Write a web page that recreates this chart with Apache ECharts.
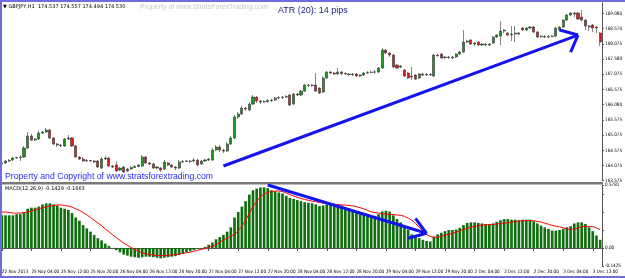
<!DOCTYPE html>
<html>
<head>
<meta charset="utf-8">
<title>GBPJPY H1 - MACD</title>
<script src="https://cdn.jsdelivr.net/npm/echarts@6/dist/echarts.min.js"></script>
<style>
  html, body { margin: 0; padding: 0; background: #fff; }
  #wrap { position: relative; width: 625px; height: 278px; }
  #main { width: 625px; height: 278px; }
  #frame { position: absolute; left: 0; top: 0; width: 625px; height: 278px; box-sizing: border-box;
    border-left: 2px solid #6d6de0; border-top: 2px solid #6d6de0; border-bottom: 2px solid #6d6de0;
    pointer-events: none; }
</style>
</head>
<body>
<div id="wrap"><div id="main"></div><div id="frame"></div></div>
<script>
// trading sessions shown (day, first hour, last hour)
const sessions = [
  ['22 Nov', 20, 23], ['25 Nov', 0, 23], ['26 Nov', 0, 23], ['27 Nov', 0, 23],
  ['28 Nov', 0, 23], ['29 Nov', 0, 23], ['2 Dec', 0, 23], ['3 Dec', 0, 14]
];
const firstLabel = '22 Nov 2013';

// open, close, low, high
const candles = [
  [164.124,164.157,164.058,164.223],[164.157,164.223,164.124,164.255],[164.223,164.239,164.190,164.288],
  [164.255,164.321,164.223,164.354],[164.321,164.338,164.288,164.354],[164.338,164.354,164.223,164.420],
  [164.354,164.650,164.321,164.716],[164.650,165.045,164.617,165.176],[165.045,164.913,164.880,165.110],
  [164.913,164.946,164.880,164.979],[164.946,165.143,164.913,165.209],[165.143,165.176,165.110,165.209],
  [165.176,165.242,165.143,165.308],[165.242,164.979,164.946,165.275],[164.979,164.782,164.749,165.012],
  [164.782,164.749,164.683,164.814],[164.749,164.732,164.683,164.782],[164.716,164.946,164.683,164.979],
  [164.946,164.979,164.913,165.078],[164.979,164.716,164.683,165.012],[164.716,164.354,164.321,164.749],
  [164.354,164.288,164.255,164.387],[164.288,164.223,164.190,164.354],[164.223,164.239,164.190,164.288],
  [164.239,164.223,164.190,164.255],[164.223,164.190,164.157,164.255],[164.223,164.025,163.992,164.255],
  [163.992,164.288,163.959,164.354],[164.288,164.321,164.255,164.387],[164.321,164.058,164.025,164.354],
  [164.058,164.025,163.992,164.091],[164.091,163.894,163.861,164.223],[163.927,163.992,163.894,164.025],
  [164.025,163.861,163.828,164.058],[163.894,163.959,163.861,163.992],[163.959,164.009,163.927,164.058],
  [164.009,164.042,163.992,164.091],[164.042,164.091,164.025,164.124],[164.058,164.354,164.025,164.420],
  [164.354,164.157,164.124,164.387],[164.157,164.124,164.091,164.190],[164.124,163.992,163.959,164.157],
  [163.992,164.025,163.959,164.058],[163.992,163.927,163.861,164.025],[163.959,164.190,163.927,164.255],
  [164.157,164.091,164.058,164.190],[164.091,164.025,163.992,164.124],[164.025,163.992,163.927,164.058],
  [163.992,164.190,163.959,164.255],[164.190,164.206,164.157,164.255],[164.206,164.223,164.190,164.255],
  [164.223,164.206,164.157,164.255],[164.223,164.255,164.190,164.321],[164.255,164.091,164.058,164.288],
  [164.124,164.223,164.091,164.255],[164.223,164.255,164.190,164.288],[164.255,164.288,164.223,164.321],
  [164.255,164.584,164.223,164.650],[164.584,164.683,164.551,164.749],[164.683,164.584,164.518,164.749],
  [164.584,164.551,164.486,164.617],[164.551,164.782,164.518,164.847],[164.782,164.979,164.749,165.045],
  [164.979,165.669,164.946,165.735],[165.669,165.768,165.604,165.834],[165.768,165.965,165.735,166.031],
  [165.965,165.933,165.867,165.998],[165.900,166.097,165.867,166.163],[166.097,166.327,166.064,166.393],
  [166.327,166.196,166.130,166.360],[166.196,166.163,166.097,166.228],[166.163,166.179,166.130,166.228],
  [166.179,166.212,166.130,166.261],[166.212,166.228,166.163,166.261],[166.228,166.294,166.196,166.327],
  [166.294,166.311,166.261,166.360],[166.311,166.327,166.261,166.360],[166.327,166.344,166.294,166.393],
  [166.393,166.064,166.031,166.426],[166.097,166.426,166.064,166.459],[166.426,166.393,166.360,166.459],
  [166.393,166.524,166.360,166.557],[166.524,166.722,166.492,166.755],[166.722,166.705,166.656,166.755],
  [166.705,166.722,166.656,166.755],[166.722,166.524,166.492,167.116],[166.623,166.459,166.426,166.656],
  [166.492,166.952,166.459,167.018],[166.952,167.149,166.919,167.182],[167.149,167.116,167.084,167.182],
  [167.116,167.084,167.051,167.149],[167.084,167.149,167.051,167.281],[167.149,167.100,167.051,167.182],
  [167.100,167.084,167.051,167.149],[167.084,167.067,167.018,167.116],[167.067,167.084,167.018,167.116],
  [167.084,167.018,166.985,167.116],[167.018,167.051,166.985,167.084],[167.051,167.116,167.018,167.149],
  [167.116,167.133,167.084,167.182],[167.133,167.149,167.116,167.182],[167.149,167.150,167.084,167.215],
  [167.149,167.281,167.116,167.314],[167.281,167.873,167.248,167.939],[167.873,167.774,167.741,167.906],
  [167.774,167.708,167.643,167.807],[167.708,167.314,167.281,167.741],[167.379,167.281,167.248,167.412],
  [167.314,167.347,167.281,167.379],[167.215,167.018,166.985,167.248],[167.116,166.952,166.919,167.149],
  [167.018,166.985,166.886,167.314],[167.051,166.919,166.886,167.084],[166.952,167.084,166.919,167.116],
  [167.084,167.051,167.018,167.116],[167.051,167.067,167.018,167.116],[167.067,167.051,167.018,167.116],
  [167.018,167.708,166.985,167.741],[167.708,167.692,167.643,167.741],[167.741,167.610,167.577,167.774],
  [167.643,167.626,167.577,167.675],[167.626,167.643,167.577,167.675],[167.643,167.610,167.577,167.675],
  [167.643,167.741,167.610,167.774],[167.741,167.807,167.708,167.840],[167.807,168.136,167.774,168.530],
  [168.136,168.169,168.103,168.202],[168.202,168.070,168.037,168.234],[168.070,168.103,168.004,168.136],
  [168.136,168.037,168.004,168.169],[168.037,168.070,168.004,168.103],[168.070,168.037,168.004,168.103],
  [168.037,168.070,168.004,168.103],[168.103,168.300,168.070,168.333],[168.300,168.366,168.267,168.399],
  [168.333,168.498,168.037,168.826],[168.498,168.530,168.432,168.563],[168.432,168.366,168.333,168.465],
  [168.366,168.399,168.169,168.662],[168.432,168.399,168.136,168.662],[168.399,168.432,168.366,168.465],
  [168.596,168.530,168.498,168.629],[168.530,168.596,168.498,168.629],[168.596,168.629,168.563,168.662],
  [168.629,168.465,168.432,168.662],[168.465,168.300,168.267,168.498],[168.333,168.317,168.267,168.366],
  [168.317,168.300,168.267,168.366],[168.300,168.317,168.267,168.366],[168.317,168.333,168.300,168.366],
  [168.333,168.596,168.300,168.629],[168.530,168.629,168.498,168.662],[168.629,168.859,168.596,168.892],
  [168.859,169.024,168.826,169.057],[169.024,169.090,168.991,169.122],[169.090,169.057,168.958,169.122],
  [169.090,168.892,168.859,169.122],[168.958,168.859,168.826,169.188],[168.859,168.662,168.530,168.892],
  [168.662,168.629,168.498,168.695],[168.695,168.596,168.465,168.728],[168.629,168.596,168.432,168.662],
  [168.432,168.136,168.004,168.465]
];

// MACD(12,26,9) main line (histogram) and signal line
const macdMain = [
  0.30,0.30,0.30,0.30,0.31,0.31,0.33,0.36,0.37,0.37,0.38,0.40,0.41,0.41,0.40,0.39,0.37,0.36,0.35,0.32,
  0.28,0.25,0.21,0.18,0.15,0.12,0.09,0.07,0.04,0.02,0.00,-0.02,-0.04,-0.06,-0.07,-0.08,-0.085,-0.09,-0.085,-0.08,
  -0.08,-0.085,-0.09,-0.095,-0.09,-0.085,-0.08,-0.075,-0.065,-0.055,-0.04,-0.03,-0.02,-0.01,0.00,0.01,0.03,0.05,0.08,0.10,
  0.12,0.15,0.19,0.28,0.33,0.38,0.43,0.49,0.53,0.545,0.555,0.557,0.548,0.53,0.52,0.51,0.50,0.48,0.46,0.45,
  0.44,0.43,0.42,0.415,0.41,0.40,0.385,0.39,0.40,0.41,0.405,0.40,0.39,0.375,0.365,0.35,0.33,0.32,0.31,0.305,
  0.295,0.295,0.31,0.335,0.342,0.335,0.30,0.265,0.235,0.20,0.17,0.125,0.105,0.09,0.075,0.065,0.06,0.105,0.125,0.14,
  0.155,0.165,0.165,0.17,0.185,0.21,0.23,0.235,0.235,0.23,0.225,0.22,0.215,0.225,0.24,0.255,0.265,0.265,0.26,0.26,
  0.255,0.26,0.26,0.26,0.245,0.225,0.205,0.19,0.175,0.16,0.16,0.165,0.175,0.19,0.20,0.225,0.235,0.235,0.22,0.19,
  0.155,0.115,0.075
];
const macdSignal = [
  0.33,0.33,0.325,0.32,0.32,0.32,0.325,0.33,0.34,0.35,0.36,0.37,0.375,0.385,0.39,0.395,0.395,0.39,0.385,0.375,
  0.36,0.345,0.325,0.305,0.28,0.255,0.23,0.205,0.175,0.15,0.12,0.095,0.07,0.045,0.025,0.005,-0.015,-0.03,-0.045,-0.055,
  -0.06,-0.065,-0.068,-0.07,-0.07,-0.068,-0.065,-0.06,-0.055,-0.05,-0.044,-0.038,-0.03,-0.022,-0.013,-0.004,0.006,0.017,0.03,0.05,
  0.075,0.09,0.11,0.125,0.16,0.20,0.25,0.32,0.38,0.43,0.47,0.495,0.51,0.518,0.523,0.523,0.518,0.505,0.49,0.478,
  0.465,0.455,0.445,0.438,0.43,0.425,0.418,0.412,0.405,0.402,0.40,0.398,0.396,0.394,0.39,0.386,0.38,0.37,0.36,0.345,
  0.332,0.325,0.32,0.315,0.31,0.308,0.306,0.303,0.30,0.29,0.275,0.255,0.227,0.19,0.16,0.125,0.105,0.098,0.10,0.108,
  0.118,0.125,0.135,0.145,0.158,0.17,0.18,0.19,0.198,0.205,0.21,0.213,0.215,0.217,0.22,0.224,0.228,0.232,0.237,0.242,
  0.246,0.25,0.252,0.252,0.25,0.245,0.238,0.228,0.218,0.207,0.20,0.195,0.185,0.175,0.17,0.175,0.185,0.195,0.198,0.198,
  0.196,0.185,0.168
];

// right-hand scale labels
const priceTicks = ['163.575','164.075','164.575','165.075','165.575','166.080',
                    '166.575','167.075','167.580','168.075','168.570','169.080'];
const priceMin = 163.575, priceMax = 169.42, priceStep = 0.5;
const macdMin = -0.1652, macdMax = 0.5781;
const macdTicks = { min: '-0.1425', zero: '0.00', max: '0.5781' };

let times = [];
sessions.forEach(function (s) {
  for (let h = s[1]; h <= s[2]; h++) {
    times.push(s[0] + ' ' + (h < 10 ? '0' : '') + h + ':00');
  }
});

const axisColor = '#555';
const labelFont = { fontSize: 4.6, fontFamily: '"Liberation Sans Narrow", "DejaVu Sans Condensed", sans-serif', color: '#000' };

let myChart = echarts.init(document.getElementById('main'));

let option = {
  animation: false,
  backgroundColor: '#fff',
  grid: [
    { left: 0, right: 23, top: 3, bottom: 278 - 180.7, outerBoundsMode: 'none', containLabel: false },
    { left: 0, right: 23, top: 185, bottom: 12, outerBoundsMode: 'none', containLabel: false }
  ],
  xAxis: [
    {
      type: 'category', gridIndex: 0, data: times, boundaryGap: true,
      axisLine: { show: false }, axisTick: { show: false }, axisLabel: { show: false },
      splitLine: { show: false }
    },
    {
      type: 'category', gridIndex: 1, data: times, boundaryGap: true,
      axisLine: { show: true, lineStyle: { color: axisColor, width: 1 } },
      axisTick: { show: true, interval: 7, alignWithLabel: true, length: 3, lineStyle: { color: axisColor } },
      axisLabel: Object.assign({
        interval: 7, align: 'left', margin: 3,
        formatter: function (v, i) { return i === 0 ? firstLabel : v; }
      }, labelFont),
      splitLine: { show: false }
    }
  ],
  yAxis: [
    {
      type: 'value', gridIndex: 0, position: 'right', scale: true,
      min: priceMin, max: priceMax, interval: priceStep,
      axisLine: { show: true, lineStyle: { color: axisColor, width: 1 } },
      axisTick: { show: true, length: 2, lineStyle: { color: axisColor } },
      splitLine: { show: false },
      axisLabel: Object.assign({
        margin: 3, showMaxLabel: false,
        formatter: function (v) {
          const k = Math.round((v - priceMin) / priceStep);
          if (Math.abs(v - (priceMin + k * priceStep)) > 1e-6) return '';
          return priceTicks[k] || '';
        }
      }, labelFont)
    },
    {
      type: 'value', gridIndex: 1, position: 'right',
      min: macdMin, max: macdMax, interval: -macdMin,
      axisLine: { show: true, lineStyle: { color: axisColor, width: 1 } },
      axisTick: { show: true, length: 2, lineStyle: { color: axisColor } },
      splitLine: { show: false },
      axisLabel: Object.assign({
        margin: 3, showMinLabel: true, showMaxLabel: true,
        formatter: function (v) {
          if (Math.abs(v - macdMin) < 1e-6) return macdTicks.min;
          if (Math.abs(v) < 1e-6) return macdTicks.zero;
          if (Math.abs(v - macdMax) < 1e-6) return macdTicks.max;
          return '';
        }
      }, labelFont)
    }
  ],
  series: [
    {
      name: 'GBPJPY', type: 'candlestick', xAxisIndex: 0, yAxisIndex: 0,
      data: candles.map(function (c) { return [c[0], c[1], c[2], c[3]]; }),
      barWidth: '70%',
      itemStyle: {
        color: '#1a9a1a', color0: '#e31a1a',
        borderColor: '#333', borderColor0: '#333', borderWidth: 0.6
      },
      markLine: {
        silent: true, symbol: 'none', animation: false,
        label: { show: false },
        lineStyle: { color: '#1414f0', width: 3, type: 'solid' },
        data: [
          [{ coord: [60, 164.058] }, { coord: [156, 168.366] }],
          [{ coord: [151, 168.53] }, { coord: [156, 168.366] }],
          [{ coord: [154, 167.807] }, { coord: [156, 168.366] }]
        ]
      }
    },
    {
      name: 'MACD', type: 'bar', xAxisIndex: 1, yAxisIndex: 1,
      data: macdMain, barWidth: '72%',
      itemStyle: { color: '#0f6f0f' },
      markLine: {
        silent: true, symbol: 'none', animation: false,
        label: { show: false },
        lineStyle: { color: '#1414f0', width: 3, type: 'solid' },
        data: [
          [{ coord: [72, 0.578] }, { coord: [115, 0.135] }],
          [{ coord: [112, 0.2725] }, { coord: [115, 0.135] }],
          [{ coord: [110, 0.089] }, { coord: [115, 0.135] }]
        ]
      }
    },
    {
      name: 'Signal', type: 'line', xAxisIndex: 1, yAxisIndex: 1,
      data: macdSignal, symbol: 'none', smooth: false,
      lineStyle: { color: '#ff0000', width: 1 }
    }
  ],
  graphic: [
    { type: 'rect', left: 0, top: 182, shape: { width: 603, height: 2.5 }, style: { fill: '#7a7a7a' }, silent: true },
    { type: 'text', left: 3, top: 4, style: { text: '\u25BC GBPJPY,H1  174.537 174.557 174.494 174.530', fontSize: 5, fontFamily: 'DejaVu Sans', fill: '#000' } },
    { type: 'text', left: 140, top: 3.5, style: { text: 'Property of www.StratsForexTrading.com', fontSize: 7, fontFamily: 'Liberation Sans', fill: '#c8c8c8' } },
    { type: 'text', left: 278, top: 6, style: { text: 'ATR (20): 14 pips', fontSize: 9, fontFamily: 'Liberation Sans', fill: '#20208c' } },
    { type: 'text', left: 5, top: 172, style: { text: 'Property and Copyright of www.stratsforextrading.com', fontSize: 8.7, fontFamily: 'Liberation Sans', fill: '#2a2aff' } },
    { type: 'text', left: 5, top: 186, style: { text: 'MACD(12,26,9) -0.1429 -0.1663', fontSize: 5, fontFamily: 'DejaVu Sans', fill: '#000' } }
  ]
};

myChart.setOption(option);
</script>
</body>
</html>
